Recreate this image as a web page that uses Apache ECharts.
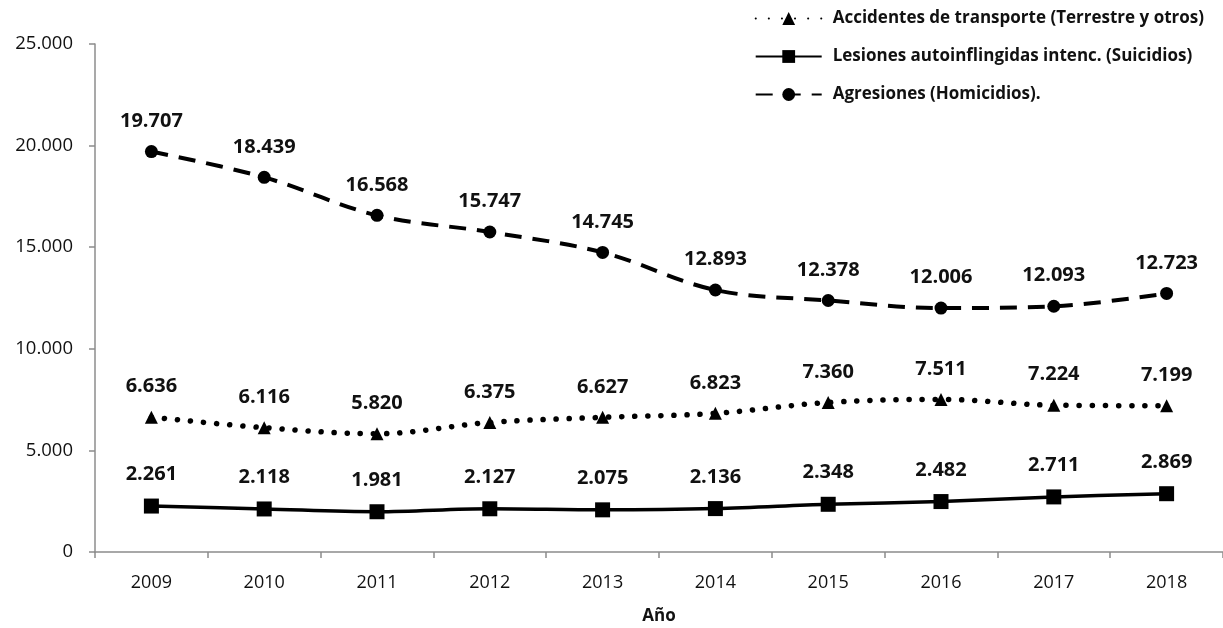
<!DOCTYPE html>
<html><head><meta charset="utf-8">
<script src="https://cdn.jsdelivr.net/npm/echarts@6/dist/echarts.min.js"></script>
<style>html,body{margin:0;padding:0;background:#fff}#c{width:1223px;height:628px}</style>
</head><body><div id="c"></div>
<script>
const years = ['2009','2010','2011','2012','2013','2014','2015','2016','2017','2018'];
const transporte = [6636,6116,5820,6375,6627,6823,7360,7511,7224,7199];
const suicidios = [2261,2118,1981,2127,2075,2136,2348,2482,2711,2869];
const homicidios = [19707,18439,16568,15747,14745,12893,12378,12006,12093,12723];
const names = ['Accidentes de transporte (Terrestre y otros)','Lesiones autoinflingidas intenc. (Suicidios)','Agresiones (Homicidios).'];
const yTicks = {min:0,max:25000,interval:5000};

function fmt(v){return String(v).replace(/\B(?=(\d{3})+(?!\d))/g,'.');}
const F = '"Open Sans", "Noto Sans", sans-serif';
const lbl = {show:true,position:'top',distance:14,color:'#111',fontFamily:F,fontWeight:'bold',fontSize:20,formatter:p=>fmt(p.value)};

const chart = echarts.init(document.getElementById('c'),null,{renderer:'canvas'});
chart.setOption({
  animation:false,
  grid:{left:95,right:0,top:44,bottom:76,outerBoundsMode:'none',containLabel:false},
  legend:{orient:'vertical',right:14,top:5,itemGap:21,itemWidth:66,itemHeight:16,
    textStyle:{fontFamily:F,fontWeight:'bold',fontSize:17,color:'#111',padding:[0,0,0,6]},
    data:names},
  xAxis:{type:'category',data:years,boundaryGap:true,
    name:'Año',nameLocation:'middle',nameGap:56,
    nameTextStyle:{fontFamily:F,fontWeight:'bold',fontSize:17,color:'#111'},
    axisLine:{lineStyle:{color:'#8c8c8c',width:1.5}},
    axisTick:{show:true,length:6,lineStyle:{color:'#8c8c8c',width:1.5}},
    axisLabel:{fontFamily:F,fontSize:18,color:'#111',margin:22}},
  yAxis:{type:'value',min:yTicks.min,max:yTicks.max,interval:yTicks.interval,
    splitLine:{show:false},
    axisLine:{show:true,lineStyle:{color:'#8c8c8c',width:1.5}},
    axisTick:{show:true,length:6,lineStyle:{color:'#8c8c8c',width:1.5}},
    axisLabel:{fontFamily:F,fontSize:18.5,color:'#111',margin:22,formatter:v=>fmt(v)}},
  series:[
    {name:names[0],type:'line',data:transporte,smooth:0.35,symbol:'triangle',symbolSize:13,
      lineStyle:{color:'#000',width:5.5,type:[0.1,13],cap:'round'},itemStyle:{color:'#000'},label:lbl},
    {name:names[1],type:'line',data:suicidios,smooth:0.35,symbol:'rect',symbolSize:15,
      lineStyle:{color:'#000',width:3.5,type:'solid'},itemStyle:{color:'#000'},label:lbl},
    {name:names[2],type:'line',data:homicidios,smooth:0.35,symbol:'circle',symbolSize:13,
      lineStyle:{color:'#000',width:4,type:[17,11]},itemStyle:{color:'#000'},label:lbl}
  ]
});
</script></body></html>
